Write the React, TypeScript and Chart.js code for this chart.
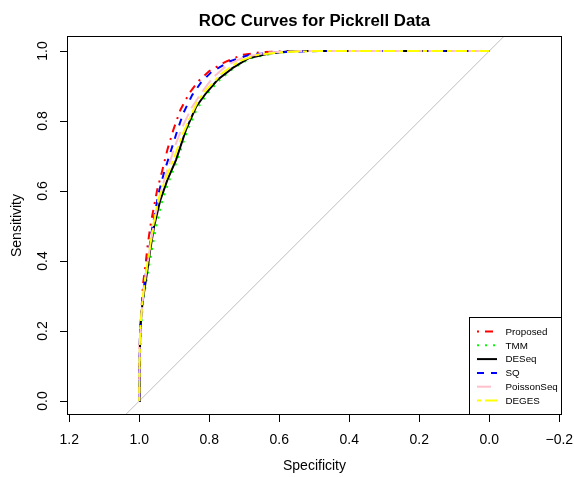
import React, { useEffect, useRef } from "react";
import { Chart, registerables } from "chart.js";

Chart.register(...registerables);

const titleText = "ROC Curves for Pickrell Data";
const xTitle = "Specificity";
const yTitle = "Sensitivity";
const xTickValues = [1.2, 1.0, 0.8, 0.6, 0.4, 0.2, 0.0, -0.2];
const yTickValues = [0.0, 0.2, 0.4, 0.6, 0.8, 1.0];

const seriesNames = ["Proposed", "TMM", "DESeq", "SQ", "PoissonSeq", "DEGES"];
const seriesColors = ["#FF0000", "#00FF00", "#000000", "#0000FF", "#FFC0CB", "#FFFF00"];
const seriesDashes = [[2, 6, 8, 6], [2, 6], [], [7, 7], [14, 6], [4, 4, 12, 4]];

const proposedSpec = [1, 0.9986, 0.9957, 0.989, 0.983, 0.976, 0.967, 0.949, 0.934, 0.92, 0.903, 0.883, 0.857, 0.831, 0.8, 0.754, 0.706, 0.649, 0.543, 0];
const proposedSens = [0, 0.16, 0.231, 0.337, 0.383, 0.446, 0.509, 0.603, 0.66, 0.717, 0.774, 0.831, 0.88, 0.914, 0.943, 0.969, 0.989, 0.997, 1, 1];

const tmmSpec = [1, 0.9986, 0.9957, 0.989, 0.974, 0.964, 0.951, 0.934, 0.914, 0.891, 0.864, 0.837, 0.809, 0.774, 0.731, 0.68, 0.614, 0.543, 0];
const tmmSens = [0, 0.117, 0.203, 0.289, 0.374, 0.431, 0.503, 0.574, 0.631, 0.689, 0.769, 0.831, 0.874, 0.914, 0.951, 0.98, 0.994, 1, 1];

const deseqSpec = [1, 0.9986, 0.997, 0.991, 0.977, 0.969, 0.957, 0.94, 0.92, 0.895, 0.867, 0.838, 0.809, 0.777, 0.734, 0.686, 0.629, 0.563, 0];
const deseqSens = [0, 0.117, 0.211, 0.28, 0.374, 0.431, 0.503, 0.574, 0.631, 0.689, 0.774, 0.84, 0.88, 0.917, 0.951, 0.98, 0.993, 1, 1];

const sqSpec = [1, 0.9986, 0.9957, 0.987, 0.98, 0.971, 0.963, 0.946, 0.929, 0.909, 0.891, 0.874, 0.849, 0.823, 0.794, 0.743, 0.686, 0.6, 0.486, 0];
const sqSens = [0, 0.174, 0.237, 0.323, 0.374, 0.437, 0.494, 0.589, 0.654, 0.717, 0.774, 0.823, 0.874, 0.911, 0.94, 0.97, 0.989, 0.997, 1, 1];

const poissonSpec = [1, 0.9986, 0.994, 0.986, 0.977, 0.966, 0.954, 0.937, 0.92, 0.9, 0.877, 0.851, 0.823, 0.791, 0.749, 0.7, 0.629, 0.543, 0];
const poissonSens = [0, 0.174, 0.246, 0.331, 0.389, 0.46, 0.531, 0.603, 0.66, 0.723, 0.783, 0.837, 0.88, 0.923, 0.96, 0.983, 0.996, 1, 1];

const degesSpec = [1, 0.9991, 0.9977, 0.991, 0.98, 0.971, 0.96, 0.946, 0.926, 0.903, 0.877, 0.852, 0.831, 0.809, 0.763, 0.714, 0.663, 0.586, 0.486, 0];
const degesSens = [0, 0.117, 0.203, 0.289, 0.374, 0.431, 0.503, 0.574, 0.631, 0.689, 0.76, 0.817, 0.86, 0.889, 0.937, 0.971, 0.989, 0.997, 1, 1];

const diagSpec = [1.1, -0.1];
const diagSens = [-0.1, 1.1];

const specs = [proposedSpec, tmmSpec, deseqSpec, sqSpec, poissonSpec, degesSpec];
const sens = [proposedSens, tmmSens, deseqSens, sqSens, poissonSens, degesSens];

const FONT = "'Liberation Sans', Arial, Helvetica, sans-serif";

const fmt = (v: number) => {
  const s = Math.abs(v).toFixed(1);
  return v < -1e-9 ? "\u2212" + s : s;
};

const decorPlugin = {
  id: "decor",
  afterDraw(chart: any) {
    const ctx = chart.ctx as CanvasRenderingContext2D;
    const { left, right, top, bottom } = chart.chartArea;
    const yScale = chart.scales.y;
    ctx.save();
    // box
    ctx.strokeStyle = "#000";
    ctx.lineWidth = 1;
    ctx.setLineDash([]);
    ctx.strokeRect(Math.round(left) + 0.5, Math.round(top) + 0.5, Math.round(right - left) - 1, Math.round(bottom - top) - 1);

    // title
    ctx.fillStyle = "#000";
    ctx.font = `bold 16.8px ${FONT}`;
    ctx.textAlign = "center";
    ctx.textBaseline = "alphabetic";
    ctx.fillText(titleText, (left + right) / 2, 26);

    // y tick labels (rotated like R)
    ctx.font = `14px ${FONT}`;
    for (const v of yTickValues) {
      const py = yScale.getPixelForValue(v);
      ctx.save();
      ctx.translate(46.7, py);
      ctx.rotate(-Math.PI / 2);
      ctx.textAlign = "center";
      ctx.textBaseline = "alphabetic";
      ctx.fillText(fmt(v), 0, 0);
      ctx.restore();
    }

    // legend
    const lx0 = 469.5, ly0 = 317.5, lx1 = 561.5, ly1 = Math.round(bottom) - 0.5;
    ctx.fillStyle = "#fff";
    ctx.fillRect(lx0, ly0, lx1 - lx0, ly1 - ly0);
    ctx.strokeStyle = "#000";
    ctx.lineWidth = 1;
    ctx.strokeRect(lx0, ly0, lx1 - lx0, ly1 - ly0);
    ctx.font = `9.8px ${FONT}`;
    ctx.textAlign = "left";
    ctx.textBaseline = "middle";
    seriesNames.forEach((name, i) => {
      const y = 331.5 + i * 13.8;
      ctx.strokeStyle = seriesColors[i];
      ctx.lineWidth = 2;
      ctx.setLineDash(seriesDashes[i]);
      ctx.beginPath();
      ctx.moveTo(477, y);
      ctx.lineTo(497, y);
      ctx.stroke();
      ctx.setLineDash([]);
      ctx.fillStyle = "#000";
      ctx.fillText(name, 505.5, y + 0.5);
    });
    ctx.restore();
  },
};

export default function App() {
  const canvasRef = useRef<HTMLCanvasElement | null>(null);

  useEffect(() => {
    const canvas = canvasRef.current;
    if (!canvas) return;

    const datasets: any[] = [
      {
        label: "diag",
        data: diagSpec.map((x, i) => ({ x, y: diagSens[i] })),
        borderColor: "#BEBEBE",
        borderWidth: 1,
        pointRadius: 0,
        showLine: true,
        order: 10,
      },
    ];
    seriesNames.forEach((name, i) => {
      datasets.push({
        label: name,
        data: specs[i].map((x, j) => ({ x, y: sens[i][j] })),
        borderColor: seriesColors[i],
        backgroundColor: seriesColors[i],
        borderWidth: 2,
        borderDash: seriesDashes[i],
        pointRadius: 0,
        showLine: true,
        tension: 0,
        fill: false,
        order: 6 - i,
      });
    });

    const chart = new Chart(canvas, {
      type: "scatter",
      data: { datasets },
      options: {
        animation: false,
        responsive: false,
        maintainAspectRatio: false,
        events: [],
        layout: { padding: { left: 0, right: 12, top: 36, bottom: 0 } },
        plugins: { legend: { display: false }, tooltip: { enabled: false }, title: { display: false } },
        scales: {
          x: {
            type: "linear",
            reverse: true,
            min: -0.2077,
            max: 1.2066,
            afterBuildTicks: (scale: any) => {
              scale.ticks = xTickValues.map((v) => ({ value: v }));
            },
            afterFit: (scale: any) => {
              scale.height = 62;
              scale.paddingLeft = 0;
              scale.paddingRight = 0;
            },
            grid: { drawOnChartArea: false, drawTicks: true, tickLength: 7, color: "#000", lineWidth: 1 },
            border: { display: false },
            ticks: {
              color: "#000",
              font: { family: FONT, size: 14 },
              padding: 10,
              maxRotation: 0,
              minRotation: 0,
              autoSkip: false,
              callback: (v: any) => fmt(Number(v)),
            },
            title: {
              display: true,
              text: xTitle,
              color: "#000",
              font: { family: FONT, size: 14 },
              padding: { top: 0, bottom: 2.6 },
            },
          },
          y: {
            type: "linear",
            min: -0.04,
            max: 1.0429,
            afterBuildTicks: (scale: any) => {
              scale.ticks = yTickValues.map((v) => ({ value: v }));
            },
            afterFit: (scale: any) => {
              scale.width = 67;
              scale.paddingTop = 0;
              scale.paddingBottom = 0;
            },
            grid: { drawOnChartArea: false, drawTicks: true, tickLength: 7, color: "#000", lineWidth: 1 },
            border: { display: false },
            ticks: {
              display: false,
            },
            title: {
              display: true,
              text: yTitle,
              color: "#000",
              font: { family: FONT, size: 14 },
              padding: { top: 8.6, bottom: 0 },
            },
          },
        },
      },
      plugins: [decorPlugin],
    } as any);

    return () => chart.destroy();
  }, []);

  return (
    <div style={{ position: "fixed", left: 0, top: 0, width: 574, height: 477, background: "#fff" }}>
      <canvas ref={canvasRef} width={574} height={477} style={{ display: "block", width: 574, height: 477 }} />
    </div>
  );
}
